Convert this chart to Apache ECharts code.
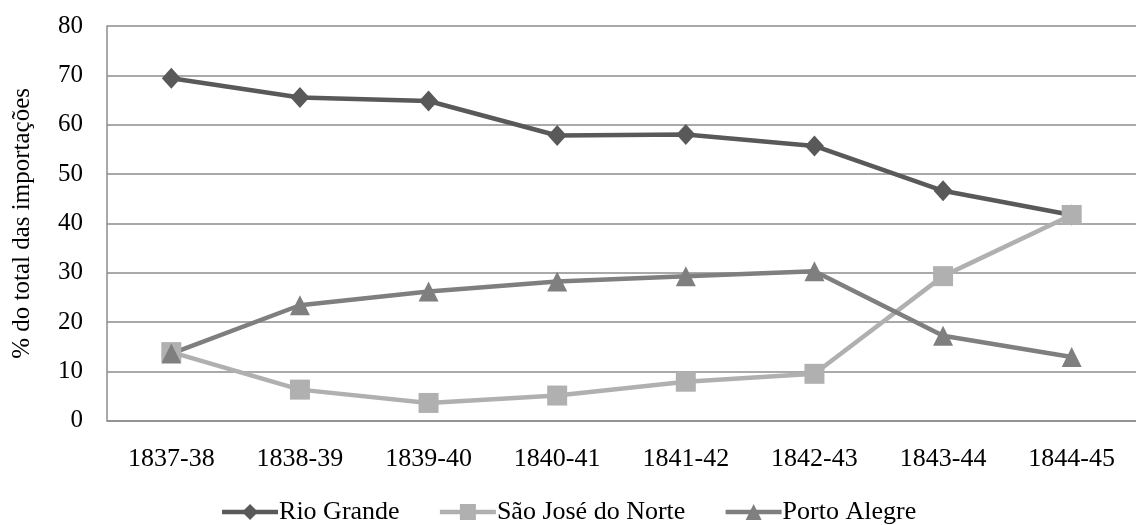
<!DOCTYPE html>
<html>
<head>
<meta charset="utf-8">
<script src="https://cdn.jsdelivr.net/npm/echarts@6/dist/echarts.min.js"></script>
<style>
html,body{margin:0;padding:0;background:#fff;}
#chart{width:1136px;height:525px;}
</style>
</head>
<body>
<div id="chart"></div>
<script>
const categories = ['1837-38','1838-39','1839-40','1840-41','1841-42','1842-43','1843-44','1844-45'];
const rioGrande = [69.4, 65.5, 64.8, 57.8, 58.0, 55.7, 46.6, 41.7];
const saoJose = [13.9, 6.3, 3.6, 5.1, 7.9, 9.5, 29.3, 41.7];
const portoAlegre = [13.6, 23.4, 26.2, 28.2, 29.3, 30.3, 17.2, 12.9];
const seriesNames = ['Rio Grande', 'São José do Norte', 'Porto Alegre'];
const yTicks = { min: 0, max: 80, interval: 10 };
const yAxisTitle = '% do total das importações';

const font = '"Liberation Serif", "Times New Roman", serif';
const chart = echarts.init(document.getElementById('chart'));
function mk(name, data, color, symbol, size) {
  return {
    name: name, type: 'line', data: data,
    symbol: symbol, symbolSize: size, showSymbol: true,
    lineStyle: { color: color, width: 4.5 },
    itemStyle: { color: color },
    emphasis: { disabled: true },
    animation: false
  };
}
chart.setOption({
  animation: false,
  grid: { left: 107, top: 26, right: -12, bottom: 104.3 },
  legend: {
    bottom: 0, left: 'center', padding: 0,
    itemWidth: 56, itemHeight: 20, itemGap: 38,
    lineStyle: { width: 4.5 },
    textStyle: { fontFamily: font, fontSize: 26, color: '#000', padding: [0, 0, 0, -4] },
    data: seriesNames
  },
  xAxis: {
    type: 'category', data: categories, boundaryGap: true,
    axisLine: { show: true, lineStyle: { color: '#8c8c8c', width: 1.5 } },
    axisTick: { show: false },
    axisLabel: { color: '#000', fontFamily: font, fontSize: 26, margin: 25, interval: 0 }
  },
  yAxis: {
    type: 'value', min: yTicks.min, max: yTicks.max, interval: yTicks.interval,
    name: yAxisTitle, nameLocation: 'middle', nameGap: 72, nameRotate: 90,
    nameTextStyle: { color: '#000', fontFamily: font, fontSize: 25 },
    axisLine: { show: true, lineStyle: { color: '#8c8c8c', width: 1.5 } },
    axisTick: { show: false },
    splitLine: { show: true, lineStyle: { color: '#8c8c8c', width: 1.5 } },
    axisLabel: { color: '#000', fontFamily: font, fontSize: 25, margin: 24 }
  },
  series: [
    mk(seriesNames[0], rioGrande, '#595959', 'diamond', [19, 21]),
    mk(seriesNames[1], saoJose, '#b0b0b0', 'rect', 20),
    mk(seriesNames[2], portoAlegre, '#7f7f7f', 'triangle', 20)
  ]
});
</script>
</body>
</html>
